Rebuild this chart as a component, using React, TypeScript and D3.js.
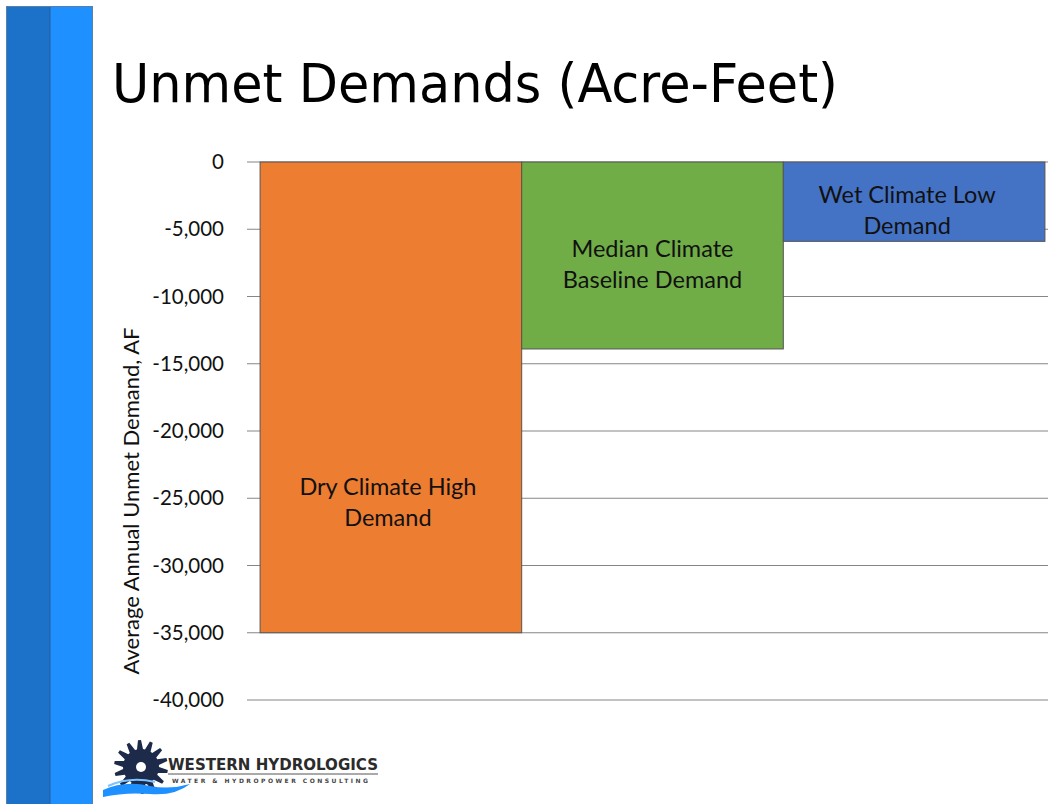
import React from "react";
import * as d3 from "d3";

const categories = ["Dry Climate High Demand", "Median Climate Baseline Demand", "Wet Climate Low Demand"];
const labelLines = [["Dry Climate High", "Demand"], ["Median Climate", "Baseline Demand"], ["Wet Climate Low", "Demand"]];
const values = [-35000, -13900, -5900];
const colors = ["#ED7D31", "#70AD47", "#4472C4"];
const yTicks = [0, -5000, -10000, -15000, -20000, -25000, -30000, -35000, -40000];

const W = 1048, H = 804;

function gearPath(cx: number, cy: number, rOut: number, rIn: number, teeth: number) {
  const pts: [number, number][] = [];
  for (let i = 0; i < teeth; i++) {
    const a0 = (i / teeth) * Math.PI * 2;
    const step = (Math.PI * 2) / teeth;
    const angs = [a0, a0 + step * 0.25, a0 + step * 0.5, a0 + step * 0.75];
    const rs = [rIn, rOut, rOut, rIn];
    angs.forEach((a, k) => pts.push([cx + rs[k] * Math.cos(a), cy + rs[k] * Math.sin(a)]));
  }
  return "M" + pts.map((p) => p.join(",")).join("L") + "Z";
}

export default function App() {
  const x = d3.scaleBand<string>().domain(categories).range([247, 1058]).paddingInner(0).paddingOuter(0.05);
  const y = d3.scaleLinear().domain([0, -40000]).range([162, 700]);
  const fmt = (v: number) => d3.format(",")(v).replace("\u2212", "-");
  const font = "Lato, 'Open Sans', sans-serif";
  const labelDx = [-3, 0, -7];
  const labelY = [487, 249, 195];
  return (
    <svg width={W} height={H} style={{ position: "absolute", left: 0, top: 0 }}>
      <rect x={0} y={0} width={W} height={H} fill="#ffffff" />
      {/* side stripes */}
      <rect x={7} y={7} width={43} height={H} fill="#1C72C9" />
      <rect x={50} y={7} width={42} height={H} fill="#1E90FF" />
      <line x1={50} y1={7} x2={50} y2={H} stroke="#2a5a99" strokeWidth={1} />
      <rect x={6.5} y={6.5} width={86} height={H} fill="none" stroke="#5a7fa8" strokeWidth={1} />
      {/* title */}
      <text x={112} y={102} fontFamily="Tahoma, 'DejaVu Sans', sans-serif" fontSize={54} fill="#000" textLength={726} lengthAdjust="spacingAndGlyphs">
        Unmet Demands (Acre-Feet)
      </text>
      {/* gridlines */}
      {yTicks.map((t) => (
        <g key={t}>
          <line x1={247} x2={1048} y1={y(t)} y2={y(t)} stroke="#868686" strokeWidth={1.2} />
          <text x={224} y={y(t)} dy="0.35em" textAnchor="end" fontFamily={font} fontSize={20.5} fill="#111">
            {fmt(t)}
          </text>
        </g>
      ))}
      {/* bars */}
      {categories.map((c, i) => (
        <g key={c}>
          <rect x={x(c)} y={y(0)} width={x.bandwidth()} height={y(values[i]) - y(0)} fill={colors[i]} stroke="#555" strokeWidth={1} />
        </g>
      ))}
      {categories.map((c, i) => {
        const cx = (x(c) as number) + x.bandwidth() / 2 + labelDx[i];
        return (
          <text key={c + "l"} textAnchor="middle" fontFamily={font} fontSize={23.5} fill="#111">
            {labelLines[i].map((l, k) => (
              <tspan key={k} x={cx} y={labelY[i] + k * 31} dy="0.35em">{l}</tspan>
            ))}
          </text>
        );
      })}
      {/* y label */}
      <text transform="translate(131,501) rotate(-90)" textAnchor="middle" dy="0.35em" fontFamily={font} fontSize={22} fill="#111">
        Average Annual Unmet Demand, AF
      </text>
      {/* logo */}
      <g>
        <path d={gearPath(141, 767, 27, 18, 14)} fill="#1d2a4a" />
        <circle cx={141} cy={767} r={5} fill="#fff" />
        <path d="M103,790 Q125,780 150,786 Q170,790 190,784 Q175,796 150,794 Q125,792 103,797 Z" fill="#1e90ff" />
        <path d="M108,786 Q130,776 155,782" stroke="#7cc4ff" strokeWidth={2} fill="none" />
        <text x={168} y={770} fontFamily="'DejaVu Sans', sans-serif" fontWeight="bold" fontSize={16} fill="#2b2b2b" textLength={210} lengthAdjust="spacingAndGlyphs">
          WESTERN HYDROLOGICS
        </text>
        <line x1={168} x2={378} y1={774} y2={774} stroke="#555" strokeWidth={1} />
        <text x={172} y={783} fontFamily="'DejaVu Sans', sans-serif" fontWeight="bold" fontSize={6} fill="#444" textLength={196} lengthAdjust="spacing">
          WATER &amp; HYDROPOWER CONSULTING
        </text>
      </g>
    </svg>
  );
}
